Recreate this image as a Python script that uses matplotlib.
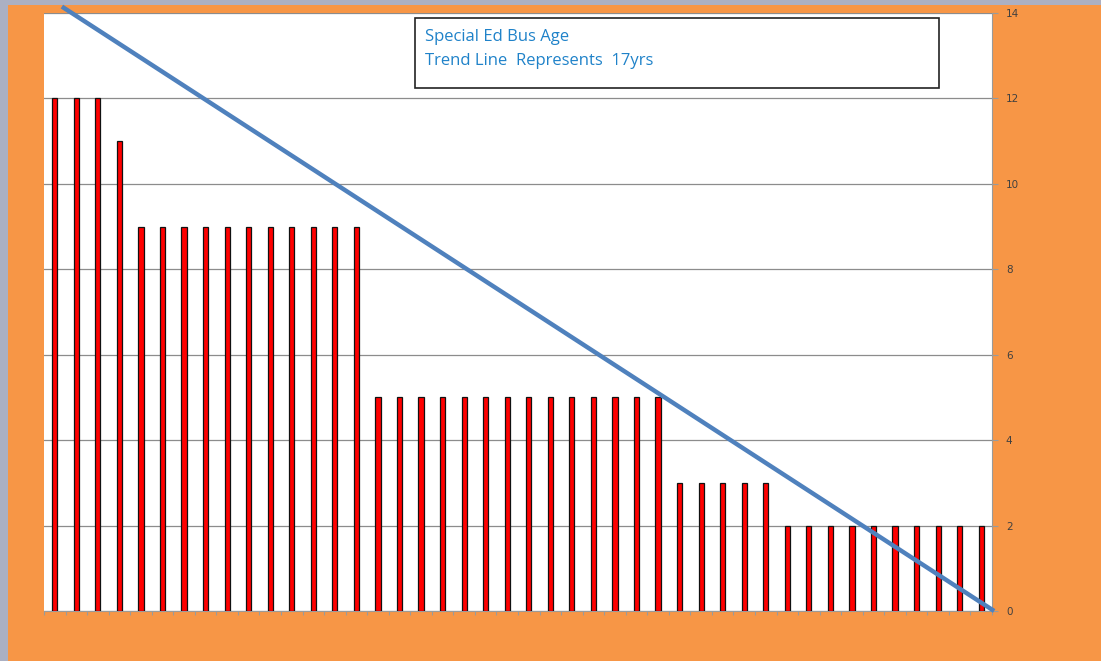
import matplotlib
matplotlib.use('Agg')
import matplotlib.pyplot as plt
from matplotlib.patches import Rectangle
import numpy as np

ages = [12, 12, 12, 11,
        9, 9, 9, 9, 9, 9, 9, 9, 9, 9, 9,
        5, 5, 5, 5, 5, 5, 5, 5, 5, 5, 5, 5, 5, 5,
        3, 3, 3, 3, 3,
        2, 2, 2, 2, 2, 2, 2, 2, 2, 2]
trend_x = [0.33, 43.6]
trend_y = [14.15, 0.0]
yticks = [0, 2, 4, 6, 8, 10, 12, 14]
title_lines = ['Special Ed Bus Age', 'Trend Line  Represents  17yrs']

W, H = 1101, 661
fig = plt.figure(figsize=(W / 100, H / 100), dpi=100, facecolor='#abb0c3')
# orange chart area inside the grey frame
fig.patches.append(Rectangle((8 / W, 0), 1, (H - 5) / H, transform=fig.transFigure,
                             facecolor='#f79646', edgecolor='none', zorder=-5))

ax = fig.add_axes([44 / W, (H - 611) / H, (992 - 44) / W, (611 - 13) / H])
ax.set_facecolor('white')

x = np.arange(len(ages))
ax.bar(x, ages, width=0.24, color='#ff0000', edgecolor='#111111', linewidth=0.9, zorder=3)
ax.plot(trend_x, trend_y, color='#4f81bd', linewidth=3.2, solid_capstyle='butt',
        zorder=4, clip_on=False)

ax.set_xlim(-0.5, len(ages) - 0.5)
ax.set_ylim(0, 14)
ax.set_xticks(np.arange(len(ages) + 1) - 0.5)
ax.set_xticklabels([])
ax.tick_params(axis='x', length=3, color='#9a9a9a', width=0.8)

ax.yaxis.tick_right()
ax.set_yticks(yticks)
ax.set_yticklabels([str(v) for v in yticks], fontsize=7.5, color='#404040')
ax.tick_params(axis='y', length=4, color='#9a9a9a', width=0.8, pad=6)
ax.grid(axis='y', color='#8c8c8c', linewidth=0.9, zorder=1)

ax.spines['top'].set_visible(False)
ax.spines['left'].set_visible(False)
ax.spines['right'].set_color('#9a9a9a')
ax.spines['bottom'].set_color('#9a9a9a')

# title box
ax.add_patch(Rectangle((0.391, 0.875), 0.553, 0.117, transform=ax.transAxes,
                       facecolor='white', edgecolor='#222222', linewidth=1.2, zorder=5))
ax.text(0.402, 0.960, title_lines[0], transform=ax.transAxes, fontsize=12,
        color='#1f82c9', va='center', ha='left', family='Open Sans', zorder=6)
ax.text(0.402, 0.920, title_lines[1], transform=ax.transAxes, fontsize=12,
        color='#1f82c9', va='center', ha='left', family='Open Sans', zorder=6)

fig.savefig('out.png', dpi=100, facecolor=fig.get_facecolor())
